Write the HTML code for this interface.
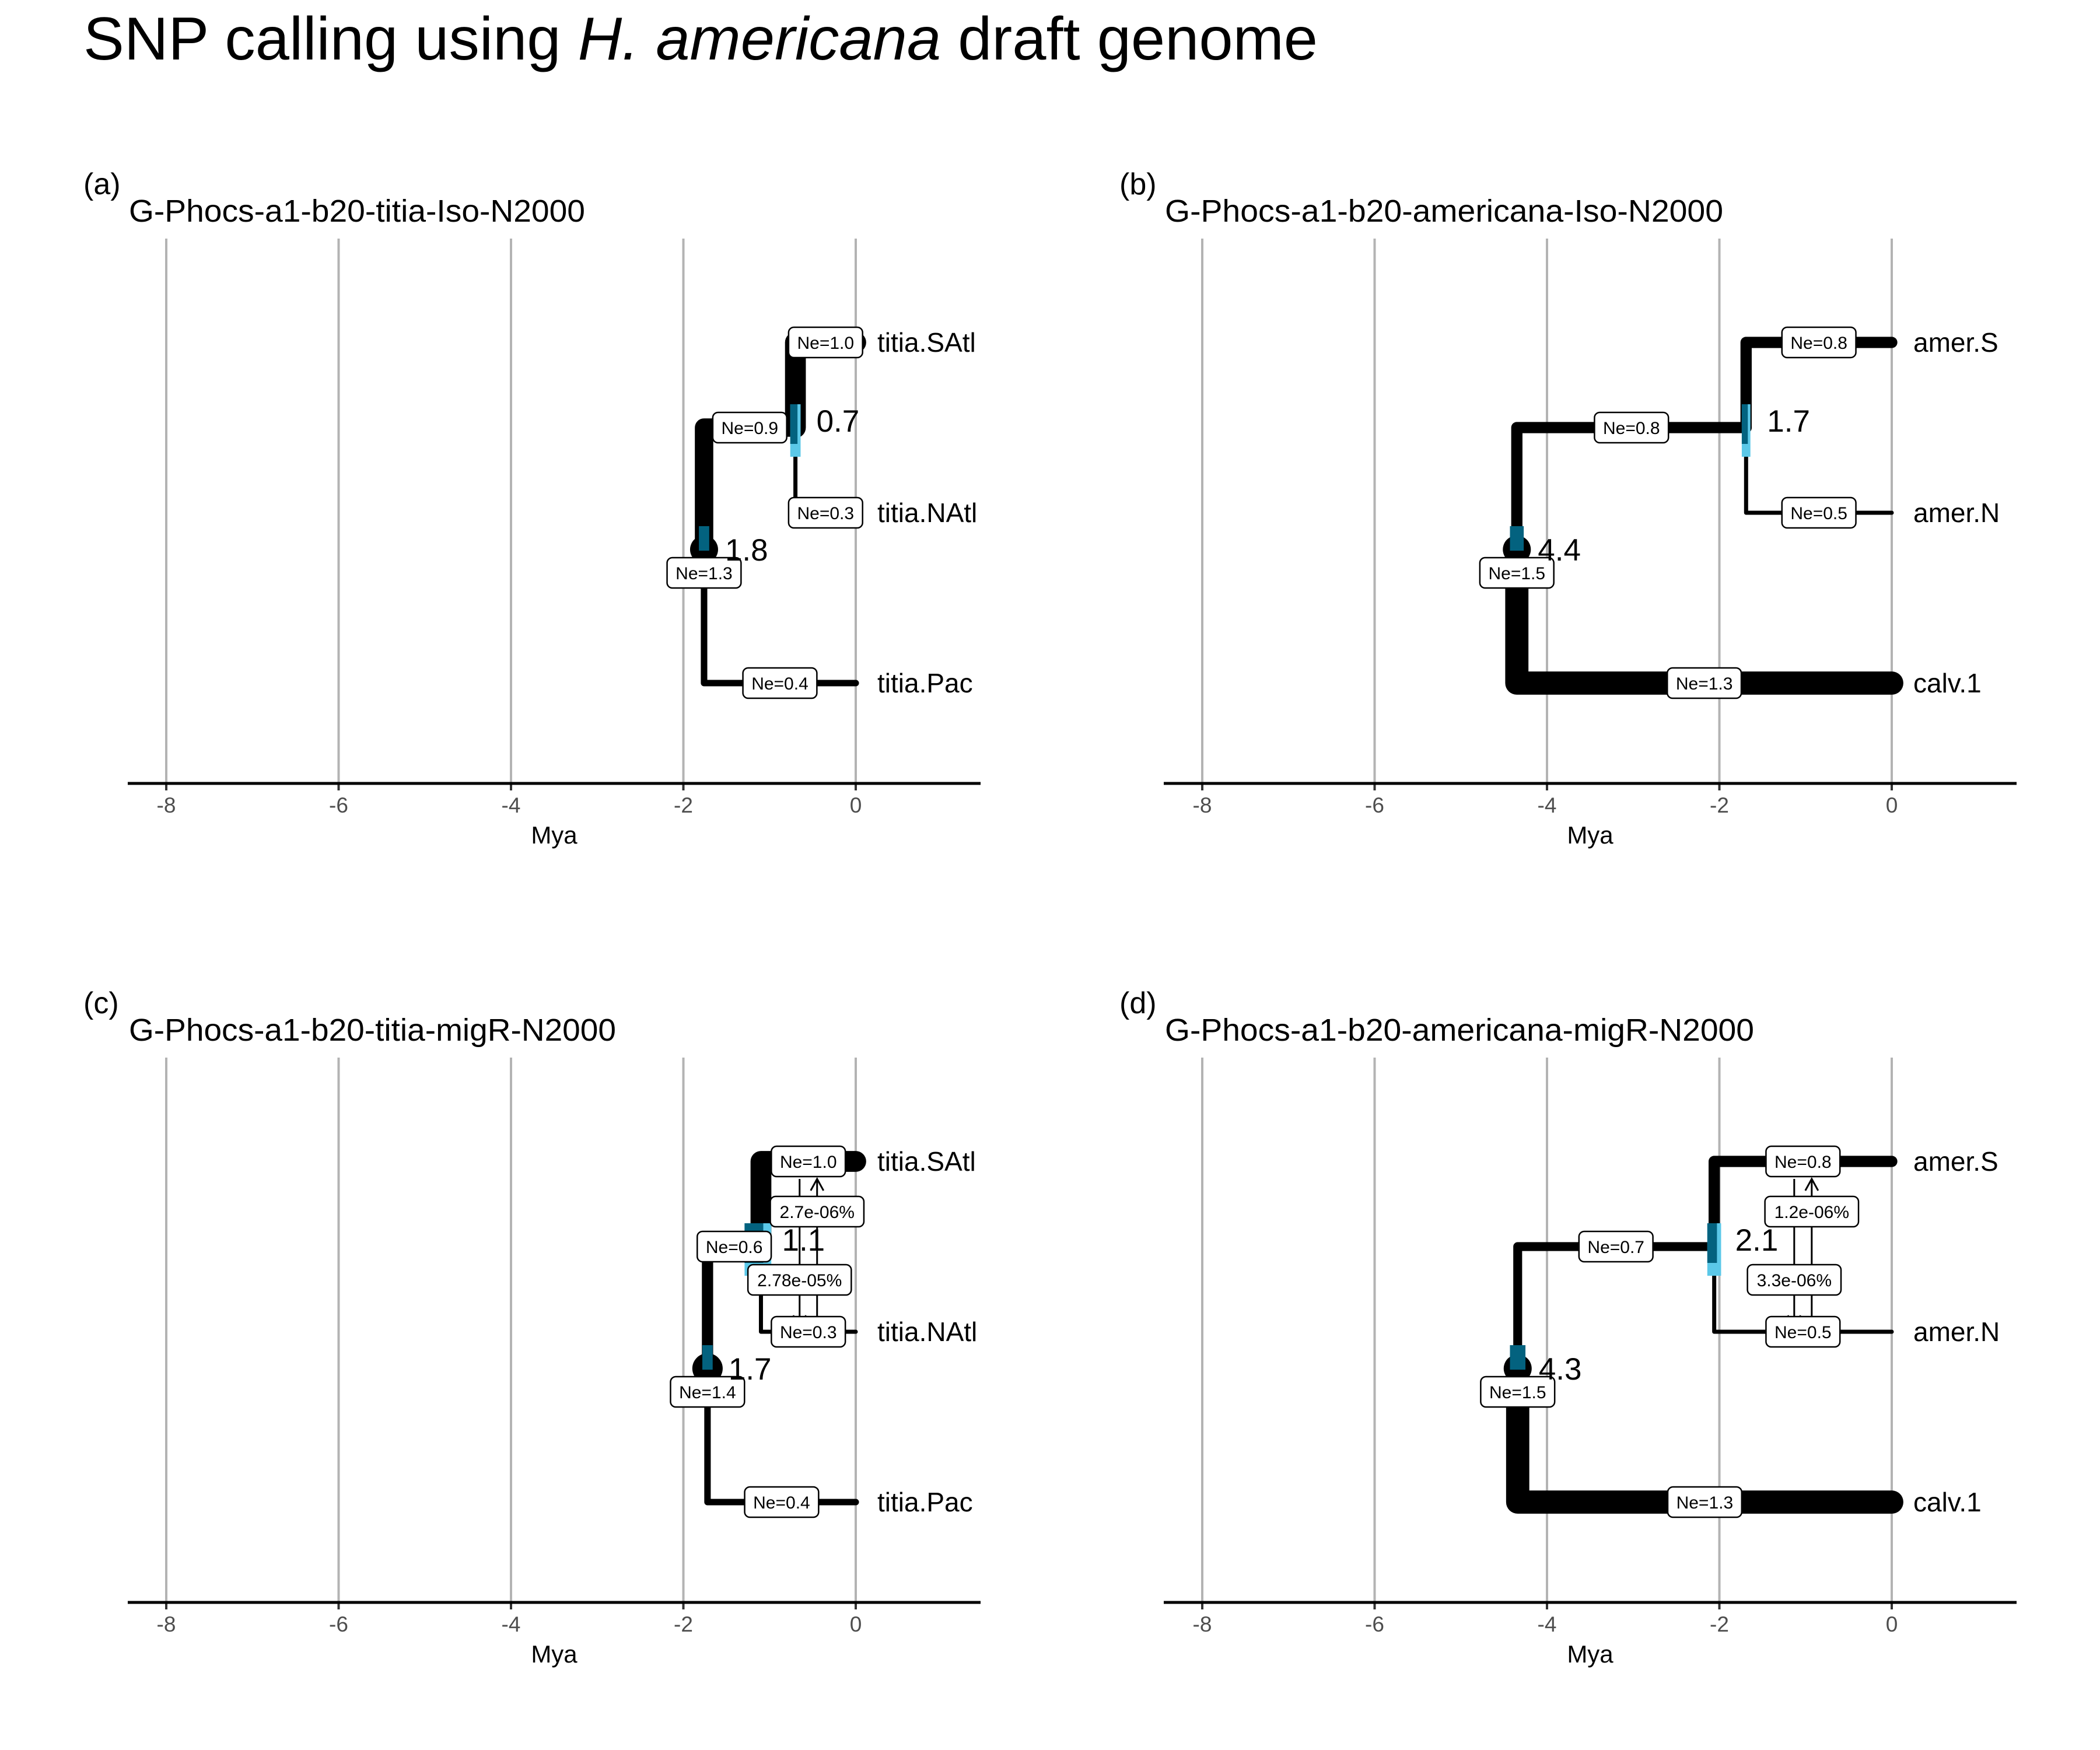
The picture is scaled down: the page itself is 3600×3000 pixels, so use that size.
<!DOCTYPE html>
<html><head><meta charset="utf-8"><title>SNP calling</title>
<style>html,body{margin:0;padding:0;background:#fff}svg{display:block}text{font-family:"Liberation Sans",Arial,sans-serif}</style>
</head><body>
<svg id="chart" width="3600" height="3000" viewBox="0 0 3600 3000" xmlns="http://www.w3.org/2000/svg">
<rect x="0" y="0" width="3600" height="3000" fill="#fff"/>
<text x="143" y="102" font-size="104" fill="#000" textLength="2116" lengthAdjust="spacingAndGlyphs">SNP calling using <tspan font-style="italic">H. americana</tspan> draft genome</text>
</svg>
<script>
const panelIds = ['a','b','c','d'];
const panelTitles = ['G-Phocs-a1-b20-titia-Iso-N2000','G-Phocs-a1-b20-americana-Iso-N2000','G-Phocs-a1-b20-titia-migR-N2000','G-Phocs-a1-b20-americana-migR-N2000'];
const tipNames = [['titia.SAtl','titia.NAtl','titia.Pac'],['amer.S','amer.N','calv.1'],['titia.SAtl','titia.NAtl','titia.Pac'],['amer.S','amer.N','calv.1']];
const tipNe = [[1.0,0.3,0.4],[0.8,0.5,1.3],[1.0,0.3,0.4],[0.8,0.5,1.3]];
const ancNe = [0.9,0.8,0.6,0.7];
const rootNe = [1.3,1.5,1.4,1.5];
const ancAge = [0.70,1.69,1.10,2.06];
const rootAge = [1.76,4.35,1.72,4.34];
const ancAgeLabel = ['0.7','1.7','1.1','2.1'];
const rootAgeLabel = ['1.8','4.4','1.7','4.3'];
const ancHpd = [[0.64,0.76],[1.64,1.74],[0.98,1.29],[1.98,2.14]];
const rootHpd = [[1.70,1.82],[4.27,4.43],[1.66,1.78],[4.25,4.43]];
const migUp = ['','','2.7e-06%','1.2e-06%'];
const migDown = ['','','2.78e-05%','3.3e-06%'];
const xTicks = [-8,-6,-4,-2,0];

const NS='http://www.w3.org/2000/svg';
const svg=document.getElementById('chart');
const offX=[0,1776,0,1776], offY=[0,0,1404,1404];
const titleW=[782,957,835,1010];
function mk(parent,tag,attrs,txt){const e=document.createElementNS(NS,tag);for(const k in attrs)e.setAttribute(k,attrs[k]);if(txt!==undefined)e.textContent=txt;parent.appendChild(e);return e;}
function box(g,cx,cy,label,name){
  const w=label.length*16.8+26,h=52;
  const r=mk(g,'rect',{x:cx-w/2,y:cy-h/2,width:w,height:h,rx:9,fill:'#fff',stroke:'#000','stroke-width':2.5});
  
  
  const t=mk(g,'text',{x:cx,y:cy+11,'font-size':30,'text-anchor':'middle',fill:'#000'},label);
  
  
}
for(let p=0;p<4;p++){
  const ox=offX[p], oy=offY[p];
  const g=mk(svg,'g',{transform:'translate('+ox+','+oy+')'});
  
  
  const X=v=>1467-v*147.75;
  const XT=v=>1467+v*147.75;
  const Y=i=>587+i*292;
  const tag=mk(g,'text',{x:143,y:333,'font-size':52,fill:'#000'},'('+panelIds[p]+')');
  
  
  const st=mk(g,'text',{x:221,y:380,'font-size':54,fill:'#000',textLength:titleW[p],lengthAdjust:'spacingAndGlyphs'},panelTitles[p]);
  
  
  xTicks.forEach(t=>{
    const l=mk(g,'line',{x1:XT(t),x2:XT(t),y1:409,y2:1343,stroke:'#b3b3b3','stroke-width':4});
    
    
    const tk=mk(g,'line',{x1:XT(t),x2:XT(t),y1:1343,y2:1355,stroke:'#333','stroke-width':4});
    
    
    const tl=mk(g,'text',{x:XT(t),y:1393,'font-size':37,'text-anchor':'middle',fill:'#4d4d4d'},String(t));
    
    
  });
  const ax=mk(g,'line',{x1:219,x2:1681,y1:1343,y2:1343,stroke:'#000','stroke-width':5});
  
  
  const at=mk(g,'text',{x:950,y:1446,'font-size':42,'text-anchor':'middle',fill:'#000'},'Mya');
  
  
  const minNe=Math.min.apply(null,tipNe[p]);
  const W=ne=>7+(ne-minNe)*41;
  const yA=(Y(0)+Y(1))/2, yR=(yA+Y(2))/2-10;
  const xA=X(ancAge[p]), xR=X(rootAge[p]), x0=X(0);
  const branches=[
    {d:'M'+xA+','+yA+' V'+Y(0)+' H'+x0, w:W(tipNe[p][0]), n:'branch-'+tipNames[p][0]},
    {d:'M'+xA+','+yA+' V'+Y(1)+' H'+x0, w:W(tipNe[p][1]), n:'branch-'+tipNames[p][1]},
    {d:'M'+xR+','+yR+' V'+yA+' H'+xA, w:W(ancNe[p]), n:'branch-ancestor'},
    {d:'M'+xR+','+yR+' V'+Y(2)+' H'+x0, w:W(tipNe[p][2]), n:'branch-'+tipNames[p][2]}
  ];
  branches.forEach(b=>{
    const pa=mk(g,'path',{d:b.d,fill:'none',stroke:'#000','stroke-width':b.w,'stroke-linecap':'round','stroke-linejoin':'round'});
    
    
  });
  const rc=mk(g,'circle',{cx:xR,cy:yR,r:W(rootNe[p])/2,fill:'#000'});
  
  
  const h1=mk(g,'rect',{x:X(ancHpd[p][1]),y:yA-40,width:X(ancHpd[p][0])-X(ancHpd[p][1]),height:90,fill:'#5bc8e8'});
  
  
  const h2=mk(g,'rect',{x:X(ancHpd[p][1]),y:yA-40,width:(X(ancHpd[p][0])-X(ancHpd[p][1]))*0.7,height:68,fill:'#03627f'});
  
  
  const h3=mk(g,'rect',{x:X(rootHpd[p][1]),y:yR-40,width:X(rootHpd[p][0])-X(rootHpd[p][1]),height:42,fill:'#03627f'});
  
  
  if(migUp[p]){
    const xm=(xA+x0)/2, xL=xm-15, xRt=xm+15, yT=Y(0)+30, yB=Y(1)-8;
    const l1=mk(g,'path',{d:'M'+xRt+','+yB+' V'+yT+' M'+(xRt-11)+','+(yT+20)+' L'+xRt+','+yT+' L'+(xRt+11)+','+(yT+20),fill:'none',stroke:'#000','stroke-width':3});
    
    
    const l2=mk(g,'path',{d:'M'+xL+','+yT+' V'+yB+' M'+(xL-11)+','+(yB-20)+' L'+xL+','+yB+' L'+(xL+11)+','+(yB-20),fill:'none',stroke:'#000','stroke-width':3});
    
    
    box(g,xRt,Y(0)+86,migUp[p],'migration-rate-up');
    box(g,xL,Y(0)+203,migDown[p],'migration-rate-down');
  }
  box(g,(xA+x0)/2,Y(0),'Ne='+tipNe[p][0].toFixed(1),'ne-label');
  box(g,(xA+x0)/2,Y(1),'Ne='+tipNe[p][1].toFixed(1),'ne-label');
  box(g,(xR+xA)/2,yA,'Ne='+ancNe[p].toFixed(1),'ne-label');
  box(g,(xR+x0)/2,Y(2),'Ne='+tipNe[p][2].toFixed(1),'ne-label');
  box(g,xR,yR+40,'Ne='+rootNe[p].toFixed(1),'ne-label-root');
  const na=mk(g,'text',{x:xA+36,y:yA+7,'font-size':53,fill:'#000'},ancAgeLabel[p]);
  
  
  const nr=mk(g,'text',{x:xR+36,y:yR+19,'font-size':53,fill:'#000'},rootAgeLabel[p]);
  
  
  for(let i=0;i<3;i++){
    const tl=mk(g,'text',{x:1504,y:Y(i)+16,'font-size':46,fill:'#000'},tipNames[p][i]);
    
    
  }
}
</script>
</body></html>
